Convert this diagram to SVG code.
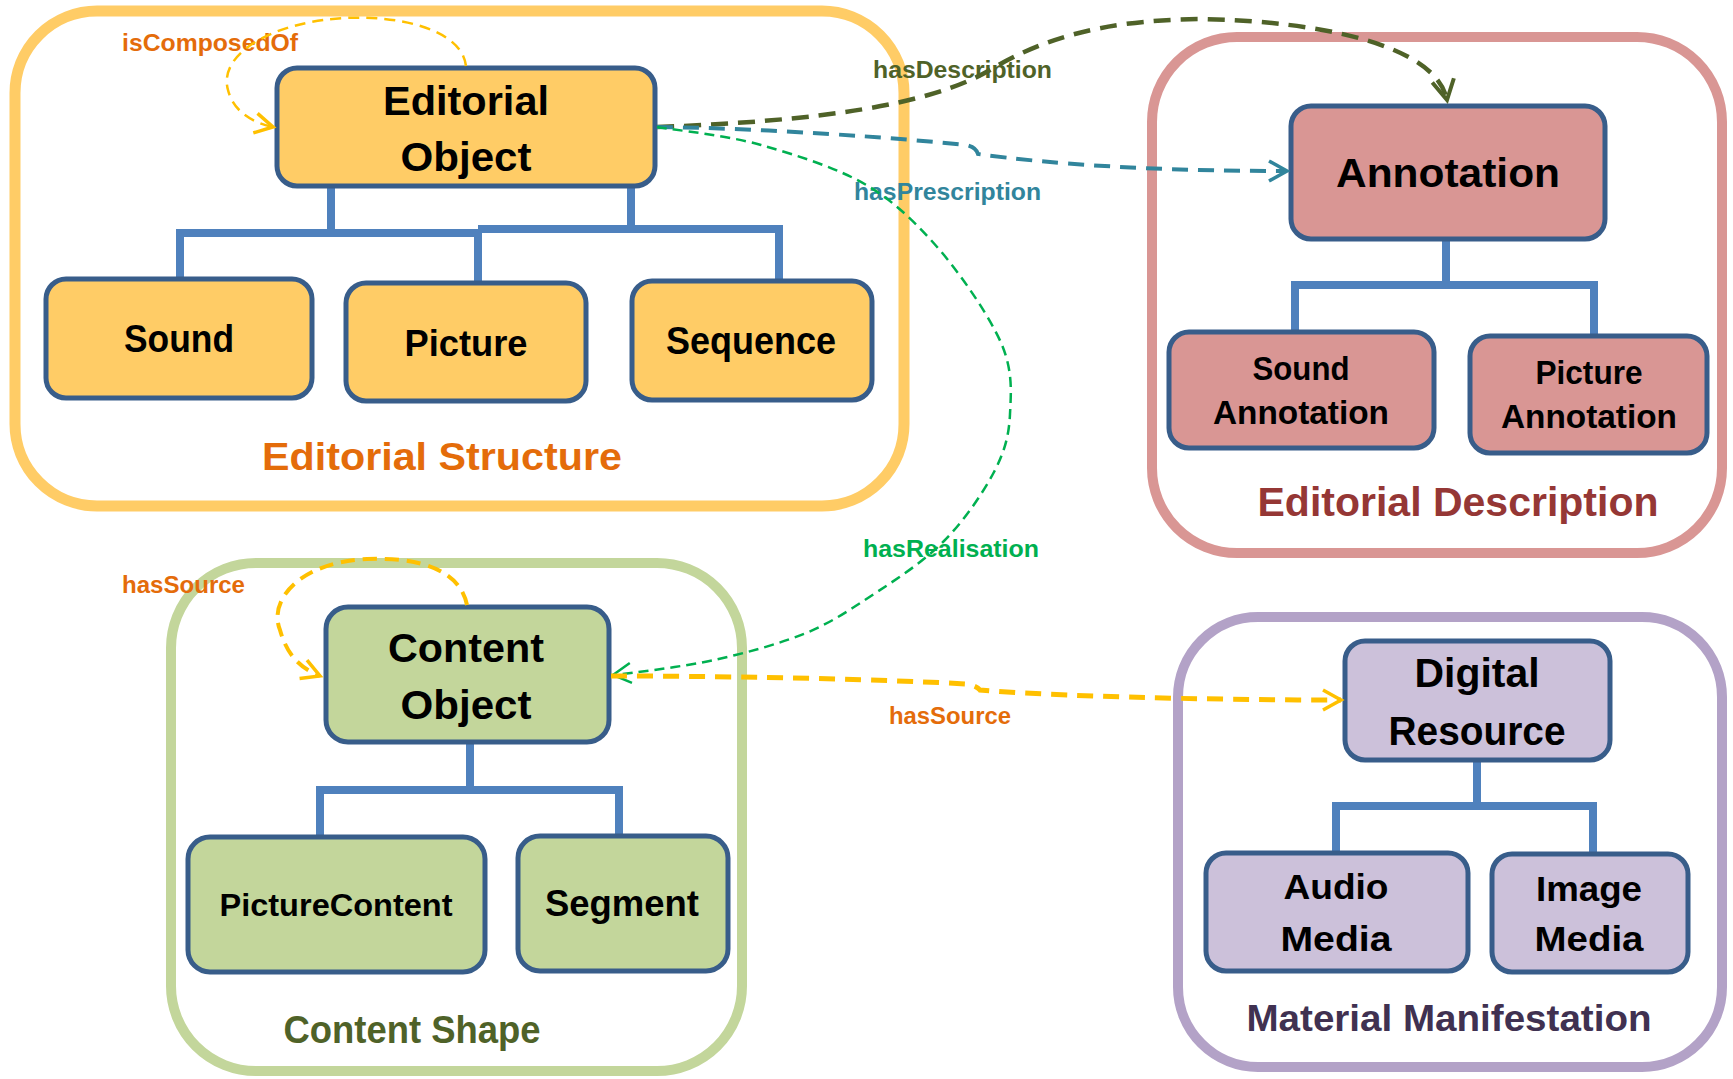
<svg xmlns="http://www.w3.org/2000/svg" width="1733" height="1079" viewBox="0 0 1733 1079">
<style>
.t{font-family:"Liberation Sans",Arial,sans-serif;font-weight:bold;text-anchor:middle;fill:#000}
.lbl{font-family:"Liberation Sans",Arial,sans-serif;font-weight:bold;font-size:24px}
.nd{stroke:#385D8A;stroke-width:5}
.tree{stroke:#4F81BD;stroke-width:8;fill:none}
.cont{fill:#fff}
.c{fill:none}
</style>
<defs>
<marker id="aY" markerUnits="userSpaceOnUse" markerWidth="30" markerHeight="30" viewBox="-25 -15 30 30" refX="0" refY="0" orient="auto"><path d="M-18,-10 L0,0 L-18,10" fill="none" stroke="#FFC000" stroke-width="3.5"/></marker>
<marker id="aT" markerUnits="userSpaceOnUse" markerWidth="30" markerHeight="30" viewBox="-25 -15 30 30" refX="0" refY="0" orient="auto"><path d="M-18,-10 L0,0 L-18,10" fill="none" stroke="#31859C" stroke-width="3.5"/></marker>
<marker id="aO" markerUnits="userSpaceOnUse" markerWidth="30" markerHeight="30" viewBox="-25 -15 30 30" refX="0" refY="0" orient="auto"><path d="M-20,-11 L0,0 L-20,11" fill="none" stroke="#4F6228" stroke-width="4"/></marker>
<marker id="aG" markerUnits="userSpaceOnUse" markerWidth="30" markerHeight="30" viewBox="-25 -15 30 30" refX="0" refY="0" orient="auto"><path d="M-18,-10 L0,0 L-18,10" fill="none" stroke="#00B050" stroke-width="2.5"/></marker>
</defs>
<rect width="1733" height="1079" fill="#fff"/>

<!-- containers -->
<g id="editorial-structure">
<rect class="cont" x="15" y="11" width="889" height="495" rx="82" stroke="#FFCC66" stroke-width="11"/>
<text class="t" x="442" y="470" font-size="39" fill="#E46C0A" style="fill:#E46C0A" textLength="360" lengthAdjust="spacingAndGlyphs">Editorial Structure</text>
</g>
<g id="editorial-description">
<rect class="cont" x="1152" y="37" width="570" height="516" rx="85" stroke="#D99694" stroke-width="10"/>
<text class="t" x="1458" y="516" font-size="41" style="fill:#953735" textLength="401" lengthAdjust="spacingAndGlyphs">Editorial Description</text>
</g>
<g id="content-shape">
<rect class="cont" x="171" y="563" width="571" height="508" rx="85" stroke="#C3D69B" stroke-width="10"/>
<text class="t" x="412" y="1043" font-size="38" style="fill:#4F6228" textLength="257" lengthAdjust="spacingAndGlyphs">Content Shape</text>
</g>
<g id="material-manifestation">
<rect class="cont" x="1178" y="617" width="544" height="450" rx="80" stroke="#B3A2C7" stroke-width="10"/>
<text class="t" x="1449" y="1031" font-size="36" style="fill:#403151" textLength="405" lengthAdjust="spacingAndGlyphs">Material Manifestation</text>
</g>

<!-- hierarchy lines -->
<g id="hierarchy">
<path class="tree" d="M331,186 V233 M631,186 V229 M176,233 H482 M478,229 H783 M180,233 V279 M478,233 V283 M779,229 V281"/>
<path class="tree" d="M1446,239 V285 M1291,285 H1598 M1295,285 V332 M1594,285 V336"/>
<path class="tree" d="M470,742 V790 M316,790 H623 M320,790 V837 M619,790 V836"/>
<path class="tree" d="M1477,760 V806 M1332,806 H1597 M1336,806 V853 M1593,806 V854"/>
</g>

<!-- nodes -->
<g id="editorial-object">
<rect class="nd" x="277" y="68" width="378" height="118" rx="20" fill="#FFCC66"/>
<text class="t" x="466" y="115" font-size="40" textLength="166" lengthAdjust="spacingAndGlyphs">Editorial</text>
<text class="t" x="466" y="171" font-size="40" textLength="131" lengthAdjust="spacingAndGlyphs">Object</text>
</g>
<g id="sound">
<rect class="nd" x="46" y="279" width="266" height="119" rx="20" fill="#FFCC66"/>
<text class="t" x="179" y="352" font-size="38" textLength="110" lengthAdjust="spacingAndGlyphs">Sound</text>
</g>
<g id="picture">
<rect class="nd" x="346" y="283" width="240" height="118" rx="20" fill="#FFCC66"/>
<text class="t" x="466" y="356" font-size="37" textLength="123" lengthAdjust="spacingAndGlyphs">Picture</text>
</g>
<g id="sequence">
<rect class="nd" x="632" y="281" width="240" height="119" rx="20" fill="#FFCC66"/>
<text class="t" x="751" y="354" font-size="38" textLength="170" lengthAdjust="spacingAndGlyphs">Sequence</text>
</g>
<g id="annotation">
<rect class="nd" x="1291" y="106" width="314" height="133" rx="20" fill="#D99694"/>
<text class="t" x="1448" y="187" font-size="40" textLength="224" lengthAdjust="spacingAndGlyphs">Annotation</text>
</g>
<g id="sound-annotation">
<rect class="nd" x="1169" y="332" width="265" height="116" rx="20" fill="#D99694"/>
<text class="t" x="1301" y="380" font-size="34" textLength="97" lengthAdjust="spacingAndGlyphs">Sound</text>
<text class="t" x="1301" y="424" font-size="34" textLength="176" lengthAdjust="spacingAndGlyphs">Annotation</text>
</g>
<g id="picture-annotation">
<rect class="nd" x="1470" y="336" width="237" height="117" rx="20" fill="#D99694"/>
<text class="t" x="1589" y="384" font-size="34" textLength="107" lengthAdjust="spacingAndGlyphs">Picture</text>
<text class="t" x="1589" y="428" font-size="34" textLength="176" lengthAdjust="spacingAndGlyphs">Annotation</text>
</g>
<g id="content-object">
<rect class="nd" x="326" y="607" width="283" height="135" rx="22" fill="#C3D69B"/>
<text class="t" x="466" y="662" font-size="40" textLength="156" lengthAdjust="spacingAndGlyphs">Content</text>
<text class="t" x="466" y="719" font-size="40" textLength="131" lengthAdjust="spacingAndGlyphs">Object</text>
</g>
<g id="picture-content">
<rect class="nd" x="188" y="837" width="297" height="135" rx="22" fill="#C3D69B"/>
<text class="t" x="336" y="916" font-size="31" textLength="233" lengthAdjust="spacingAndGlyphs">PictureContent</text>
</g>
<g id="segment">
<rect class="nd" x="518" y="836" width="210" height="135" rx="22" fill="#C3D69B"/>
<text class="t" x="622" y="916" font-size="37" textLength="154" lengthAdjust="spacingAndGlyphs">Segment</text>
</g>
<g id="digital-resource">
<rect class="nd" x="1345" y="641" width="265" height="119" rx="20" fill="#CCC1DA"/>
<text class="t" x="1477" y="687" font-size="40" textLength="125" lengthAdjust="spacingAndGlyphs">Digital</text>
<text class="t" x="1477" y="745" font-size="40" textLength="177" lengthAdjust="spacingAndGlyphs">Resource</text>
</g>
<g id="audio-media">
<rect class="nd" x="1206" y="853" width="262" height="118" rx="20" fill="#CCC1DA"/>
<text class="t" x="1336" y="899" font-size="35" textLength="105" lengthAdjust="spacingAndGlyphs">Audio</text>
<text class="t" x="1336" y="951" font-size="35" textLength="111" lengthAdjust="spacingAndGlyphs">Media</text>
</g>
<g id="image-media">
<rect class="nd" x="1492" y="854" width="196" height="118" rx="20" fill="#CCC1DA"/>
<text class="t" x="1589" y="901" font-size="35" textLength="106" lengthAdjust="spacingAndGlyphs">Image</text>
<text class="t" x="1589" y="951" font-size="35" textLength="109" lengthAdjust="spacingAndGlyphs">Media</text>
</g>

<!-- connector labels -->
<g id="connector-labels">
<text class="lbl" x="122" y="51" fill="#E46C0A" textLength="176" lengthAdjust="spacingAndGlyphs">isComposedOf</text>
<text class="lbl" x="873" y="78" fill="#4F6228" textLength="179" lengthAdjust="spacingAndGlyphs">hasDescription</text>
<text class="lbl" x="854" y="200" fill="#31859C" textLength="187" lengthAdjust="spacingAndGlyphs">hasPrescription</text>
<text class="lbl" x="863" y="557" fill="#00B050" textLength="176" lengthAdjust="spacingAndGlyphs">hasRealisation</text>
<text class="lbl" x="122" y="593" fill="#E46C0A" textLength="123" lengthAdjust="spacingAndGlyphs">hasSource</text>
<text class="lbl" x="889" y="724" fill="#E46C0A" textLength="122" lengthAdjust="spacingAndGlyphs">hasSource</text>
</g>

<!-- connectors -->
<g id="connectors">
<path class="c" d="M466,66 C462,30 400,15 345,18 C270,22 218,55 228,90 C233,110 250,122 273,127" stroke="#FFC000" stroke-width="2.5" stroke-dasharray="11,7" marker-end="url(#aY)"/>
<path class="c" d="M467,605 C460,570 420,557 367,559 C300,562 268,600 280,630 C287,655 300,668 320,676" stroke="#FFC000" stroke-width="4" stroke-dasharray="14,8" marker-end="url(#aY)"/>
<path class="c" d="M657,127 C820,121 930,105 990,70 C1040,40 1100,20 1200,19 C1320,21 1436,45 1447,100" stroke="#4F6228" stroke-width="4.5" stroke-dasharray="17,10" marker-end="url(#aO)"/>
<path class="c" d="M657,127 C760,128 900,138 966,145 Q976,147 978,154 C1050,164 1150,171 1287,171" stroke="#31859C" stroke-width="4" stroke-dasharray="16,10" marker-end="url(#aT)"/>
<path class="c" d="M657,127 C674,130 726,135 761,145 C796,155 838,168 868,186 C898,204 922,229 944,255 C966,282 991,319 1002,345 C1013,372 1011,393 1010,414 C1009,435 1005,451 994,472 C983,493 964,521 944,541 C924,561 900,577 877,592 C854,607 833,622 806,633 C779,644 746,653 714,660 C682,667 631,673 613,675" stroke="#00B050" stroke-width="2.5" stroke-dasharray="10,6" marker-end="url(#aG)"/>
<path class="c" d="M611,676 C750,676 900,680 965,684 Q976,685 980,690 C1050,696 1200,700 1341,700" stroke="#FFC000" stroke-width="5" stroke-dasharray="16,10" marker-end="url(#aY)"/>
</g>
</svg>
